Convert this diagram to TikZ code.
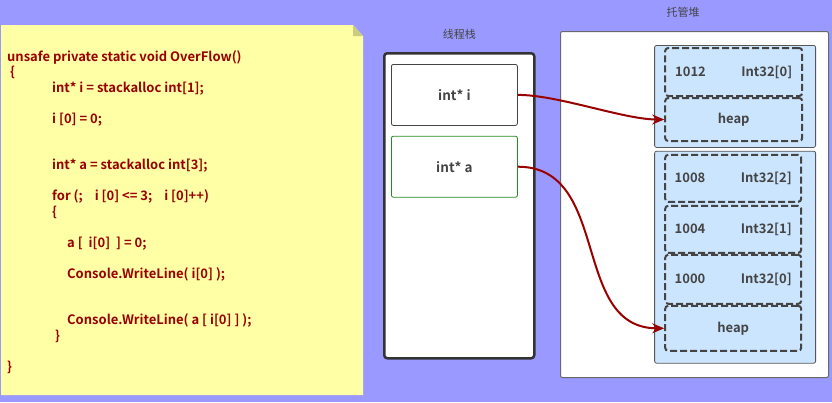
\documentclass[tikz,border=0pt]{standalone}
\usepackage{fontspec}
\setmainfont{Noto Sans CJK SC}[BoldFont={Noto Sans CJK SC Bold}]
\usetikzlibrary{positioning,arrows.meta,calc}
\definecolor{bgblue}{HTML}{9999FF}
\definecolor{note}{HTML}{FFFFA5}
\definecolor{fold}{HTML}{CCCC80}
\definecolor{codered}{HTML}{990000}
\definecolor{cellblue}{HTML}{CCE5FF}
\definecolor{edge}{HTML}{444444}
\definecolor{okgreen}{HTML}{228B22}

\begin{document}
\begin{tikzpicture}
   [x=1pt,y=-1pt,
    frame/.style={draw=edge, fill=white, rounded corners=2pt, anchor=north west},
    slot/.style={draw=edge, fill=white, rounded corners=2pt, line width=0.8pt,
      minimum width=126pt, minimum height=61pt, text=edge,
      font=\fontsize{13.5}{15}\selectfont\bfseries},
    block/.style={draw=edge!90, fill=cellblue, rounded corners=2pt, line width=0.8pt,
      minimum width=161pt},
    cell/.style={draw=edge, line width=2pt, dash pattern=on 7pt off 3pt,
      rounded corners=3pt, minimum width=137pt, text width=117pt, text=edge,
      font=\fontsize{13}{15}\selectfont\bfseries},
    title/.style={text=edge, font=\fontsize{11}{13}\selectfont},
    ptr/.style={-{Stealth[length=12pt,width=10pt]}, codered, line width=2pt}]

\fill [bgblue] (0,0) rectangle (832,402);
\useasboundingbox (0,0) rectangle (832,402);

% sticky note with the code
\fill [note] (1,25) -- (353,25) -- (363,36) -- (363,395) -- (1,395) -- cycle;
\fill [fold] (353,25) -- (363,36) -- (353,36) -- cycle;
\node [anchor=north west, inner sep=0pt, align=left, text=codered,
  font=\fontsize{13}{15.5}\selectfont\bfseries] (src) at (7,50) {
unsafe private static void OverFlow()\\
\hspace*{3pt}\{\\
\hspace*{45pt}int* i = stackalloc int[1];\\[15.5pt]
\hspace*{45pt}i [0] = 0;\\[31pt]
\hspace*{45pt}int* a = stackalloc int[3];\\[15.5pt]
\hspace*{45pt}for (;\hspace{12pt}i [0] <= 3;\hspace{12pt}i [0]++)\\
\hspace*{45pt}\{\\[15.5pt]
\hspace*{60pt}a [\hspace{6pt}i[0]\hspace{6pt}] = 0;\\[15.5pt]
\hspace*{60pt}Console.WriteLine( i[0] );\\[31pt]
\hspace*{60pt}Console.WriteLine( a [ i[0] ] );\\
\hspace*{48pt}\}\\[15.5pt]
\}};

% thread stack
\node [frame, draw=black!80, line width=2.5pt, rounded corners=3pt,
  minimum width=150pt, minimum height=305pt] (stk) at (383,52) {};
\node [title, above=9pt of stk] (stktitle) {线程栈};
\node [slot, anchor=north west, below right=12pt and 8pt of stk.north west] (pi) {int* i};
\node [slot, draw=okgreen, below=10pt of pi] (pa) {int* a};

% managed heap
\node [frame, draw=edge!80, line width=1pt, minimum width=268pt, minimum height=346pt] (hp) at (560,31) {};
\node [title] (hptitle) at (683,12) {托管堆};

\node [block, minimum height=102pt, anchor=north east, below left=14pt and 13pt of hp.north east] (blk1) {};
\node [block, minimum height=212pt, below=3pt of blk1] (blk2) {};

\node [cell, minimum height=48pt, anchor=north west, below right=2pt and 10pt of blk1.north west] (c1012) {1012\hfill Int32[0]};
\node [cell, minimum height=43pt, align=center, below=0pt of c1012] (h1) {heap};

\node [cell, minimum height=47pt, minimum width=136pt, anchor=north west, below right=3pt and 10pt of blk2.north west] (c1008) {1008\hfill Int32[2]};
\node [cell, minimum height=47pt, minimum width=136pt, below=2pt of c1008] (c1004) {1004\hfill Int32[1]};
\node [cell, minimum height=49pt, minimum width=136pt, below=0pt of c1004] (c1000) {1000\hfill Int32[0]};
\node [cell, minimum height=45pt, minimum width=136pt, align=center, below=0pt of c1000] (h2) {heap};

% pointers
\draw [ptr] (pi.east) to [out=0, in=180, looseness=0.7] (h1.west);
\draw [ptr] (pa.east) to [out=0, in=180, looseness=1.1] (h2.west);
\end{tikzpicture}
\end{document}
